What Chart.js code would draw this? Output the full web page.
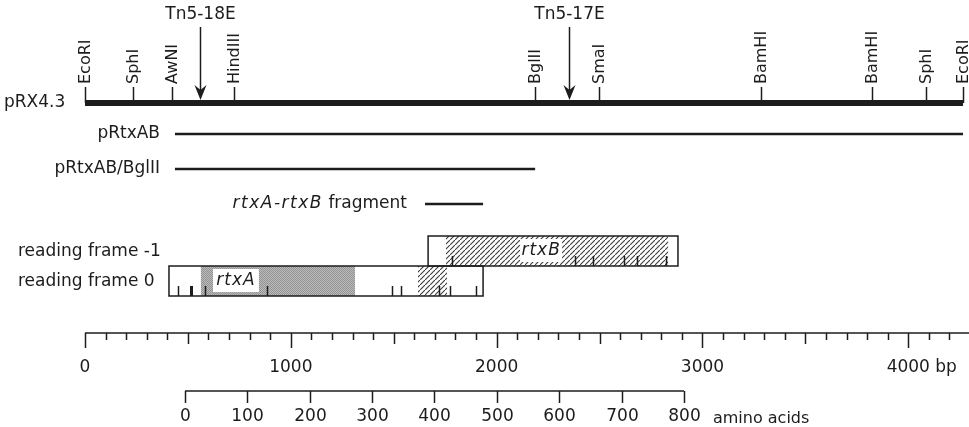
<!DOCTYPE html>
<html>
<head>
<meta charset="utf-8">
<script src="https://cdn.jsdelivr.net/npm/chart.js@4/dist/chart.umd.min.js"></script>
<style>
  html, body { margin: 0; background: #fff; }
  #wrap { width: 969px; height: 427px; }
</style>
</head>
<body>
<div id="wrap"><canvas id="mapChart"></canvas></div>
<script>
// restriction map of pRX4.3 (positions in bp)
const siteNames = ['EcoRI', 'SphI', 'AwNI', 'HindIII', 'BglII', 'SmaI', 'BamHI', 'BamHI', 'SphI', 'EcoRI'];
const siteBp = [0, 233, 423, 724, 2187, 2498, 3285, 3824, 4086, 4266];

// Tn5 insertions
const insertNames = ['Tn5-18E', 'Tn5-17E'];
const insertBp = [559, 2352];

// subclones
const cloneNames = ['pRtxAB', 'pRtxAB/BglII'];
const cloneStart = [437, 437];
const cloneEnd = [4266, 2187];
const fragmentBp = [1652, 1934];

// reading frames: open boxes, coding regions, stop codons
const frame0Box = [408, 1934];
const frameM1Box = [1667, 2881];
const rtxARegion = [563, 1312];
const rtxALabelBox = [622, 845];
const frame0Hatch = [1618, 1759];
const rtxBRegion = [1754, 2833];
const rtxBLabelBox = [2114, 2318];
const frame0Stops = [452, 515, 583, 884, 1492, 1535, 1720, 1774, 1900];
const frame0StopHeavy = [false, true, false, false, false, false, false, false, false];
const frameM1Stops = [1783, 2381, 2468, 2619, 2682, 2823];

// scales
const bpLabels = [0, 1000, 2000, 3000, 4000];
const bpMinorStep = 100;
const bpTickEnd = 4200;
const aaLabels = [0, 100, 200, 300, 400, 500, 600, 700, 800];
const aaStartBp = 486;
const bpPerAa = 3.03;

// vertical layout (y scale runs top to bottom)
const Y = {
  tn5Label: 15, arrowTop: 27, siteTick: 87, siteLabel: 84, bar: 103,
  clone1: 134, clone2: 169, fragment: 204,
  frameTop: 236, frameMid: 266, frameBottom: 296,
  bpAxis: 333, bpLabel: 368, aaAxis: 391, aaLabel: 417
};

const FONT = '"DejaVu Sans", "Liberation Sans", sans-serif';
const INK = '#1c1c1c';

function hatchPattern(ctx) {
  const c = document.createElement('canvas');
  c.width = 5; c.height = 5;
  const g = c.getContext('2d');
  g.strokeStyle = '#3a3a3a';
  g.lineWidth = 1.1;
  g.beginPath(); g.moveTo(-1, 6); g.lineTo(6, -1); g.stroke();
  return ctx.createPattern(c, 'repeat');
}

function stipplePattern(ctx) {
  const c = document.createElement('canvas');
  c.width = 2; c.height = 2;
  const g = c.getContext('2d');
  g.fillStyle = '#bcbcbc'; g.fillRect(0, 0, 2, 2);
  g.fillStyle = '#929292'; g.fillRect(0, 0, 1, 1); g.fillRect(1, 1, 1, 1);
  return ctx.createPattern(c, 'repeat');
}

function hLine(x0, x1, y, width) {
  return {
    type: 'line',
    data: [{ x: x0, y: y }, { x: x1, y: y }],
    borderColor: INK,
    borderWidth: width,
    pointRadius: 0,
    borderCapStyle: 'butt'
  };
}

const mapPlugin = {
  id: 'mapPlugin',
  afterDatasetsDraw(chart) {
    const ctx = chart.ctx;
    const px = v => chart.scales.x.getPixelForValue(v);
    const py = v => chart.scales.y.getPixelForValue(v);
    ctx.save();
    ctx.fillStyle = INK;
    ctx.strokeStyle = INK;

    // restriction sites
    ctx.font = '16px ' + FONT;
    ctx.lineWidth = 1.5;
    siteBp.forEach((bp, i) => {
      const x = Math.round(px(bp)) + 0.5;
      ctx.beginPath(); ctx.moveTo(x, py(Y.bar)); ctx.lineTo(x, py(Y.siteTick)); ctx.stroke();
      ctx.save();
      ctx.translate(x, py(Y.siteLabel));
      ctx.rotate(-Math.PI / 2);
      ctx.textAlign = 'left';
      ctx.textBaseline = 'middle';
      ctx.fillText(siteNames[i], 0, 0);
      ctx.restore();
    });

    // Tn5 insertion arrows
    ctx.font = '17px ' + FONT;
    ctx.textAlign = 'center';
    ctx.textBaseline = 'middle';
    insertBp.forEach((bp, i) => {
      const x = Math.round(px(bp)) + 0.5;
      const tip = py(Y.bar) - 3;
      ctx.lineWidth = 1.5;
      ctx.beginPath(); ctx.moveTo(x, py(Y.arrowTop)); ctx.lineTo(x, tip - 8); ctx.stroke();
      ctx.beginPath();
      ctx.moveTo(x, tip);
      ctx.lineTo(x - 6, tip - 15);
      ctx.lineTo(x, tip - 10);
      ctx.lineTo(x + 6, tip - 15);
      ctx.closePath();
      ctx.fill();
      ctx.fillText(insertNames[i], x, py(Y.tn5Label));
    });

    // track labels
    ctx.font = '17px ' + FONT;
    ctx.textAlign = 'left';
    ctx.fillText('pRX4.3', 4, py(Y.bar));
    ctx.textAlign = 'right';
    ctx.fillText(cloneNames[0], 160, py(Y.clone1));
    ctx.fillText(cloneNames[1], 160, py(Y.clone2));

    // fragment label, gene names italic
    const fragEnd = px(fragmentBp[0]) - 18;
    const plain = ' fragment';
    const ital = 'rtxA-rtxB';
    ctx.font = '17px ' + FONT;
    const wPlain = ctx.measureText(plain).width;
    ctx.textAlign = 'right';
    ctx.fillText(plain, fragEnd, py(Y.fragment));
    ctx.font = 'italic 17px ' + FONT;
    ctx.letterSpacing = '1.5px';
    ctx.fillText(ital, fragEnd - wPlain, py(Y.fragment));
    ctx.letterSpacing = '0px';

    // reading frames
    const top = py(Y.frameTop), mid = py(Y.frameMid), bot = py(Y.frameBottom);
    const hatch = hatchPattern(ctx);
    const stipple = stipplePattern(ctx);
    const fillSpan = (span, y0, y1, style) => {
      ctx.fillStyle = style;
      ctx.fillRect(px(span[0]), y0, px(span[1]) - px(span[0]), y1 - y0);
    };
    fillSpan(rtxARegion, mid, bot, stipple);
    fillSpan(frame0Hatch, mid, bot, hatch);
    fillSpan(rtxBRegion, top, mid, hatch);
    fillSpan(rtxALabelBox, mid + 3, bot - 4, '#fff');
    fillSpan(rtxBLabelBox, top + 3, mid - 4, '#fff');

    ctx.fillStyle = INK;
    ctx.font = 'italic 17px ' + FONT;
    ctx.letterSpacing = '1px';
    ctx.textAlign = 'center';
    ctx.fillText('rtxA', (px(rtxALabelBox[0]) + px(rtxALabelBox[1])) / 2, (mid + bot) / 2);
    ctx.fillText('rtxB', (px(rtxBLabelBox[0]) + px(rtxBLabelBox[1])) / 2, (top + mid) / 2);
    ctx.letterSpacing = '0px';

    // stop codons
    frame0Stops.forEach((bp, i) => {
      const x = Math.round(px(bp)) + 0.5;
      ctx.lineWidth = frame0StopHeavy[i] ? 3 : 1.5;
      ctx.beginPath(); ctx.moveTo(x, bot); ctx.lineTo(x, bot - 10); ctx.stroke();
    });
    ctx.lineWidth = 1.5;
    frameM1Stops.forEach(bp => {
      const x = Math.round(px(bp)) + 0.5;
      ctx.beginPath(); ctx.moveTo(x, mid); ctx.lineTo(x, mid - 10); ctx.stroke();
    });

    // frame outlines
    ctx.lineWidth = 1.5;
    ctx.strokeRect(px(frame0Box[0]), mid, px(frame0Box[1]) - px(frame0Box[0]), bot - mid);
    ctx.strokeRect(px(frameM1Box[0]), top, px(frameM1Box[1]) - px(frameM1Box[0]), mid - top);

    ctx.font = '17px ' + FONT;
    ctx.textAlign = 'left';
    ctx.fillText('reading frame -1', 18, (top + mid) / 2 + 1);
    ctx.fillText('reading frame 0', 18, (mid + bot) / 2 + 1);

    // bp scale
    const yb = py(Y.bpAxis);
    ctx.lineWidth = 1.5;
    for (let v = 0; v <= bpTickEnd; v += bpMinorStep) {
      const len = v % 1000 === 0 ? 15 : (v % 500 === 0 ? 11 : 7);
      const x = Math.round(px(v)) + 0.5;
      ctx.beginPath(); ctx.moveTo(x, yb); ctx.lineTo(x, yb + len); ctx.stroke();
    }
    ctx.font = '17px ' + FONT;
    ctx.textAlign = 'center';
    bpLabels.forEach((v, i) => {
      ctx.fillText(String(v), px(v), py(Y.bpLabel));
      if (i === bpLabels.length - 1) {
        const w = ctx.measureText(String(v)).width;
        ctx.textAlign = 'left';
        ctx.fillText(' bp', px(v) + w / 2, py(Y.bpLabel));
        ctx.textAlign = 'center';
      }
    });

    // amino acid scale
    const ya = py(Y.aaAxis);
    ctx.font = '17px ' + FONT;
    aaLabels.forEach(a => {
      const x = Math.round(px(aaStartBp + a * bpPerAa)) + 0.5;
      ctx.beginPath(); ctx.moveTo(x, ya); ctx.lineTo(x, ya + 12); ctx.stroke();
      ctx.fillText(String(a), x, py(Y.aaLabel));
    });
    ctx.textAlign = 'left';
    ctx.font = '16px ' + FONT;
    ctx.fillText('amino acids', px(aaStartBp + aaLabels[aaLabels.length - 1] * bpPerAa) + 29, py(Y.aaLabel) + 2);

    ctx.restore();
  }
};

const aaEndBp = aaStartBp + aaLabels[aaLabels.length - 1] * bpPerAa;

new Chart(document.getElementById('mapChart'), {
  type: 'line',
  data: {
    datasets: [
      hLine(siteBp[0], siteBp[siteBp.length - 1], Y.bar, 6),
      hLine(cloneStart[0], cloneEnd[0], Y.clone1, 2.5),
      hLine(cloneStart[1], cloneEnd[1], Y.clone2, 2.5),
      hLine(fragmentBp[0], fragmentBp[1], Y.fragment, 2.5),
      hLine(0, 4400, Y.bpAxis, 1.5),
      hLine(aaStartBp, aaEndBp, Y.aaAxis, 1.5)
    ]
  },
  options: {
    responsive: true,
    maintainAspectRatio: false,
    animation: false,
    layout: { padding: 0 },
    plugins: { legend: { display: false }, tooltip: { enabled: false } },
    scales: {
      x: { type: 'linear', display: false, min: -413, max: 4295 },
      y: { type: 'linear', display: false, min: 0, max: 427, reverse: true }
    }
  },
  plugins: [mapPlugin]
});
</script>
</body>
</html>
